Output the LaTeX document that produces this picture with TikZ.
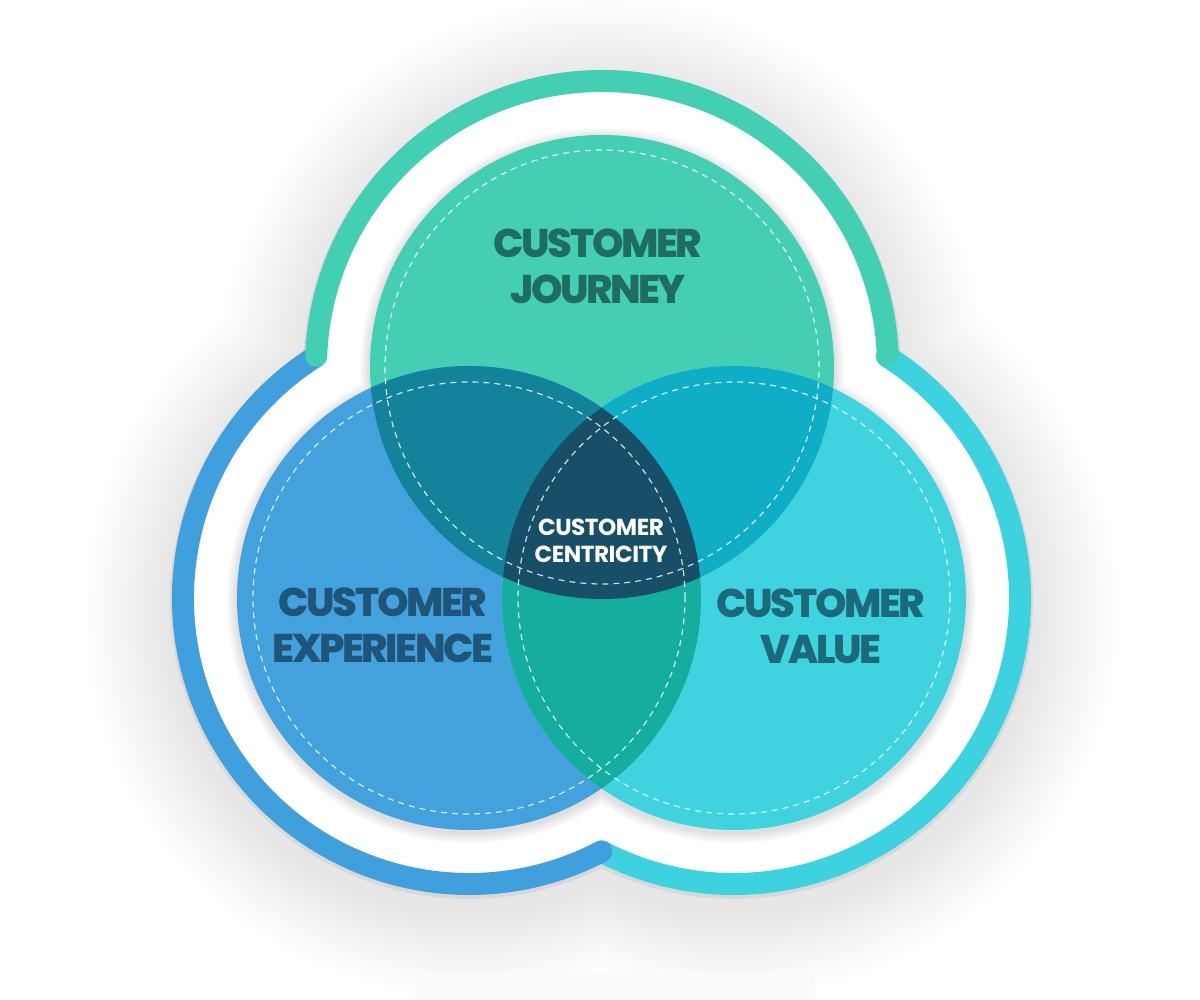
\documentclass[tikz,border=0pt]{standalone}
\usepackage{fontspec}
\setmainfont{Poppins}
\IfFontExistsTF{Poppins ExtraBold}
  {\newfontfamily\heavyfont{Poppins ExtraBold}[LetterSpace=-6]}
  {\newfontfamily\heavyfont{Poppins Bold}[FakeBold=1.5,LetterSpace=-5]}
\newfontfamily\semifont{Poppins Bold}[LetterSpace=-2]
\usetikzlibrary{calc}
\definecolor{cg}{HTML}{44CFB4}
\definecolor{cb}{HTML}{43A1DE}
\definecolor{cc}{HTML}{3FD3E0}
\definecolor{cTL}{HTML}{13839B}
\definecolor{cTR}{HTML}{10ADC6}
\definecolor{cLR}{HTML}{15AD9D}
\definecolor{cC}{HTML}{184F68}
\definecolor{bandg}{HTML}{43CFB3}
\definecolor{bandb}{HTML}{3FA0DD}
\definecolor{bandc}{HTML}{3DD2DF}
\definecolor{tJ}{HTML}{1F6D5E}
\definecolor{tE}{HTML}{1F5579}
\definecolor{tV}{HTML}{1C6A79}
\tikzset{
  band/.style={line width=11pt, line cap=round},
  dashring/.style={white, opacity=0.8, line width=0.6pt, dash pattern=on 3pt off 2.5pt},
  bigtext/.style={font=\heavyfont\fontsize{20}{23}\selectfont, align=center, inner sep=0pt},
  smalltext/.style={font=\semifont\fontsize{11.6}{13.5}\selectfont, align=center, inner sep=0pt, text=white}
}
\begin{document}
\begin{tikzpicture}[x=0.5pt,y=0.5pt]
\useasboundingbox (0,0) rectangle (1200,1000);
\fill[white] (0,0) rectangle (1200,1000);
\coordinate (T) at (602,633);
\coordinate (L) at (469,402);
\coordinate (R) at (734,402);
% outer soft shadow
\foreach \k in {1,...,25}{
  \fill[black,opacity=0.005] (602,619) circle[radius=297+3.5*\k] (469,388) circle[radius=297+3.5*\k] (734,388) circle[radius=297+3.5*\k];
}
\fill[white!98!black] (415,0) rectangle (815,27);
% thin darker edge round the rings
\fill[black,opacity=0.06] (602,631) circle[radius=299] (469,400) circle[radius=299] (734,400) circle[radius=299];
% white rings
\fill[white] (T) circle[radius=290] (L) circle[radius=290] (R) circle[radius=290];
% shadow of the circles on the white
\foreach \k in {1,...,8}{
  \fill[black,opacity=0.014] (602,630) circle[radius=232+1.3*\k] (469,399) circle[radius=232+1.3*\k] (734,399) circle[radius=232+1.3*\k];
}
% bands
\draw[band, bandc] ($(R)+(57.7:286)$) arc[start angle=57.7, end angle=-117.6, radius=286];
\draw[band, bandb] ($(L)+(122.3:286)$) arc[start angle=122.3, end angle=297.6, radius=286];
\draw[band, bandg] ($(T)+(2.2:286)$) arc[start angle=2.2, end angle=177.8, radius=286];
% circles
\fill[cg] (T) circle[radius=232];
\fill[cb] (L) circle[radius=232];
\fill[cc] (R) circle[radius=232];
\begin{scope}
  \clip (T) circle[radius=232];
  \fill[cTL] (L) circle[radius=232];
  \fill[cTR] (R) circle[radius=232];
\end{scope}
\begin{scope}
  \clip (L) circle[radius=232];
  \fill[cLR] (R) circle[radius=232];
\end{scope}
\begin{scope}
  \clip (T) circle[radius=232];
  \clip (L) circle[radius=232];
  \fill[cC] (R) circle[radius=232];
\end{scope}
% dashed rings
\draw[dashring] (T) circle[radius=217];
\draw[dashring] (L) circle[radius=216];
\draw[dashring] (R) circle[radius=216];
% texts
\node[bigtext, text=tJ] (journey) at (598,734) {CUSTOMER\\JOURNEY};
\node[bigtext, text=tE] (experience) at (383,375) {CUSTOMER\\EXPERIENCE};
\node[bigtext, text=tV] (value) at (821,374) {CUSTOMER\\VALUE};
\node[smalltext] (centricity) at (601,459) {CUSTOMER\\CENTRICITY};
\end{tikzpicture}
\end{document}
